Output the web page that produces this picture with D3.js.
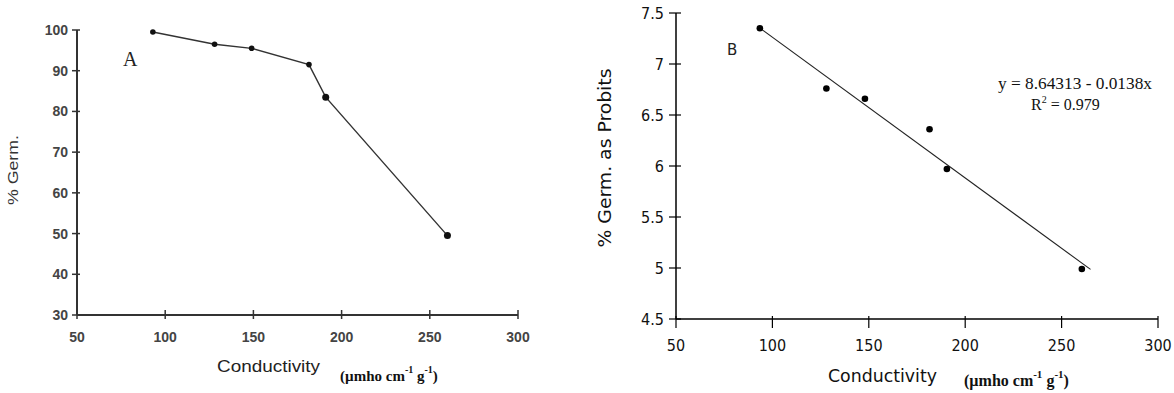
<!DOCTYPE html>
<html>
<head>
<meta charset="utf-8">
<script src="https://cdn.jsdelivr.net/npm/d3@7"></script>
<style>
  body { margin: 0; background: #fff; }
  svg { display: block; }
</style>
</head>
<body>
<svg id="chart" width="1174" height="393"></svg>
<script>
// Panel A data: conductivity vs % germination
var condA = [93, 128, 149, 181.5, 191, 260];
var germA = [99.5, 96.5, 95.5, 91.5, 83.5, 49.5];
var yTicksA = [30, 40, 50, 60, 70, 80, 90, 100];

// Panel B data: conductivity vs germination as probits
var condB = [93.5, 128, 148, 181.5, 190.5, 260.5];
var probitB = [7.35, 6.76, 6.66, 6.36, 5.97, 4.99];
var yTicksB = [4.5, 5, 5.5, 6, 6.5, 7, 7.5];
var xTicks = [50, 100, 150, 200, 250, 300];

// Regression for panel B
var fitIntercept = 8.64313, fitSlope = -0.0138;
var fitRange = [93, 265];

var svg = d3.select('#chart');

// unit label helper: (µmho cm-1 g-1)
function unitLabel(g, x, y, size) {
    var t = g.append('text').attr('x', x).attr('y', y)
        .style('font', 'bold ' + size + 'px "Liberation Serif", serif')
        .attr('fill', '#111');
    t.append('tspan').text('(µmho cm');
    t.append('tspan').attr('dy', -8).style('font-size', (size - 5) + 'px').text('-1');
    t.append('tspan').attr('dy', 8).text(' g');
    t.append('tspan').attr('dy', -8).style('font-size', (size - 5) + 'px').text('-1');
    t.append('tspan').attr('dy', 8).text(')');
    return t;
}

/**** PANEL A ****/
var xA = d3.scaleLinear().domain([50, 300]).range([77, 518]);
var yA = d3.scaleLinear().domain([30, 100]).range([315, 30]);
var gA = svg.append('g');
var axisColA = '#333';
var fontA = 'bold 14px "Liberation Sans", Arial, sans-serif';

gA.append('line').attr('x1', 77).attr('x2', 77).attr('y1', yA(100)).attr('y2', yA(30))
    .attr('stroke', axisColA).attr('stroke-width', 2);
gA.append('line').attr('x1', xA(50)).attr('x2', xA(300)).attr('y1', 315).attr('y2', 315)
    .attr('stroke', axisColA).attr('stroke-width', 2);

// y ticks (cross the axis)
gA.selectAll('.ytA').data(yTicksA).enter().append('line')
    .attr('x1', 72).attr('x2', 80)
    .attr('y1', d => yA(d)).attr('y2', d => yA(d))
    .attr('stroke', axisColA).attr('stroke-width', 1.5);
gA.selectAll('.ylA').data(yTicksA).enter().append('text')
    .attr('x', 68).attr('y', d => yA(d) + 5)
    .attr('text-anchor', 'end')
    .style('font', fontA)
    .attr('fill', '#444')
    .text(d => d);

// x ticks
gA.selectAll('.xtA').data(xTicks).enter().append('line')
    .attr('x1', d => xA(d)).attr('x2', d => xA(d))
    .attr('y1', 310).attr('y2', 319)
    .attr('stroke', axisColA).attr('stroke-width', 1.5);
gA.selectAll('.xlA').data(xTicks).enter().append('text')
    .attr('x', d => xA(d)).attr('y', 342)
    .attr('text-anchor', 'middle')
    .style('font', fontA)
    .attr('fill', '#444')
    .text(d => d);

var lineA = d3.line().x(d => xA(d[0])).y(d => yA(d[1]));
var ptsA = condA.map((c, i) => [c, germA[i]]);
gA.append('path').attr('d', lineA(ptsA))
    .attr('fill', 'none').attr('stroke', '#333').attr('stroke-width', 1.4);
gA.selectAll('.ptA').data(ptsA).enter().append('circle')
    .attr('cx', d => xA(d[0])).attr('cy', d => yA(d[1]))
    .attr('r', (d, i) => (i === 4 || i === 5) ? 3.5 : 2.8)
    .attr('fill', '#111');

gA.append('text').attr('x', 123).attr('y', 66)
    .style('font', '20px "Liberation Serif", "Times New Roman", serif')
    .attr('fill', '#222').text('A');

gA.append('text')
    .attr('transform', 'translate(18,170) rotate(-90)')
    .attr('text-anchor', 'middle')
    .attr('textLength', 70).attr('lengthAdjust', 'spacingAndGlyphs')
    .style('font', '15px "Liberation Sans", Arial, sans-serif')
    .attr('fill', '#333').text('% Germ.');

gA.append('text').attr('x', 217).attr('y', 372)
    .attr('textLength', 103).attr('lengthAdjust', 'spacingAndGlyphs')
    .style('font', '16px "Liberation Sans", Arial, sans-serif')
    .attr('fill', '#222').text('Conductivity');
unitLabel(gA, 340, 381, 15);

/**** PANEL B ****/
var xB = d3.scaleLinear().domain([50, 300]).range([676, 1158]);
var yB = d3.scaleLinear().domain([4.5, 7.5]).range([319, 13]);
var gB = svg.append('g');
var fontB = '16px "DejaVu Sans Condensed", "Liberation Sans Narrow", sans-serif';

gB.append('line').attr('x1', 676).attr('x2', 676).attr('y1', yB(7.5)).attr('y2', yB(4.5))
    .attr('stroke', '#000').attr('stroke-width', 1.5);
gB.append('line').attr('x1', xB(50)).attr('x2', xB(300)).attr('y1', 319).attr('y2', 319)
    .attr('stroke', '#000').attr('stroke-width', 1.5);

gB.selectAll('.ytB').data(yTicksB).enter().append('line')
    .attr('x1', 669).attr('x2', 681)
    .attr('y1', d => yB(d)).attr('y2', d => yB(d))
    .attr('stroke', '#000').attr('stroke-width', 1.2);
gB.selectAll('.ylB').data(yTicksB).enter().append('text')
    .attr('x', 664).attr('y', d => yB(d) + 6)
    .attr('text-anchor', 'end')
    .style('font', fontB).attr('fill', '#111')
    .text(d => d);

gB.selectAll('.xtB').data(xTicks).enter().append('line')
    .attr('x1', d => xB(d)).attr('x2', d => xB(d))
    .attr('y1', 316).attr('y2', 328)
    .attr('stroke', '#000').attr('stroke-width', 1.2);
gB.selectAll('.xlB').data(xTicks).enter().append('text')
    .attr('x', d => xB(d)).attr('y', 351)
    .attr('text-anchor', 'middle')
    .style('font', fontB).attr('fill', '#111')
    .text(d => d);

// fitted regression line
var fitPts = fitRange.map(x => [x, fitIntercept + fitSlope * x]);
gB.append('path')
    .attr('d', d3.line().x(d => xB(d[0])).y(d => yB(d[1]))(fitPts))
    .attr('fill', 'none').attr('stroke', '#222').attr('stroke-width', 1.1);

var ptsB = condB.map((c, i) => [c, probitB[i]]);
gB.selectAll('.ptB').data(ptsB).enter().append('circle')
    .attr('cx', d => xB(d[0])).attr('cy', d => yB(d[1]))
    .attr('r', 3.3).attr('fill', '#000');

gB.append('text').attr('x', 727).attr('y', 55)
    .style('font', '15px "DejaVu Sans", sans-serif')
    .attr('fill', '#222').text('B');

gB.append('text').attr('x', 998).attr('y', 89)
    .attr('textLength', 154).attr('lengthAdjust', 'spacingAndGlyphs')
    .style('font', '16px "Liberation Serif", serif')
    .attr('fill', '#111')
    .text('y = 8.64313 - 0.0138x');
var r2 = gB.append('text').attr('x', 1031).attr('y', 110)
    .style('font', '16px "Liberation Serif", serif')
    .attr('fill', '#111');
r2.append('tspan').text('R');
r2.append('tspan').attr('dy', -7).style('font-size', '10px').text('2');
r2.append('tspan').attr('dy', 7).text(' = 0.979');

gB.append('text')
    .attr('transform', 'translate(611,158) rotate(-90)')
    .attr('text-anchor', 'middle')
    .attr('textLength', 179).attr('lengthAdjust', 'spacingAndGlyphs')
    .style('font', '17px "DejaVu Sans Condensed", sans-serif').attr('fill', '#111')
    .text('% Germ. as Probits');

gB.append('text').attr('x', 828).attr('y', 382)
    .attr('textLength', 109).attr('lengthAdjust', 'spacingAndGlyphs')
    .style('font', '17px "DejaVu Sans Condensed", sans-serif').attr('fill', '#111')
    .text('Conductivity');
unitLabel(gB, 964, 386, 16);
</script>
</body>
</html>
